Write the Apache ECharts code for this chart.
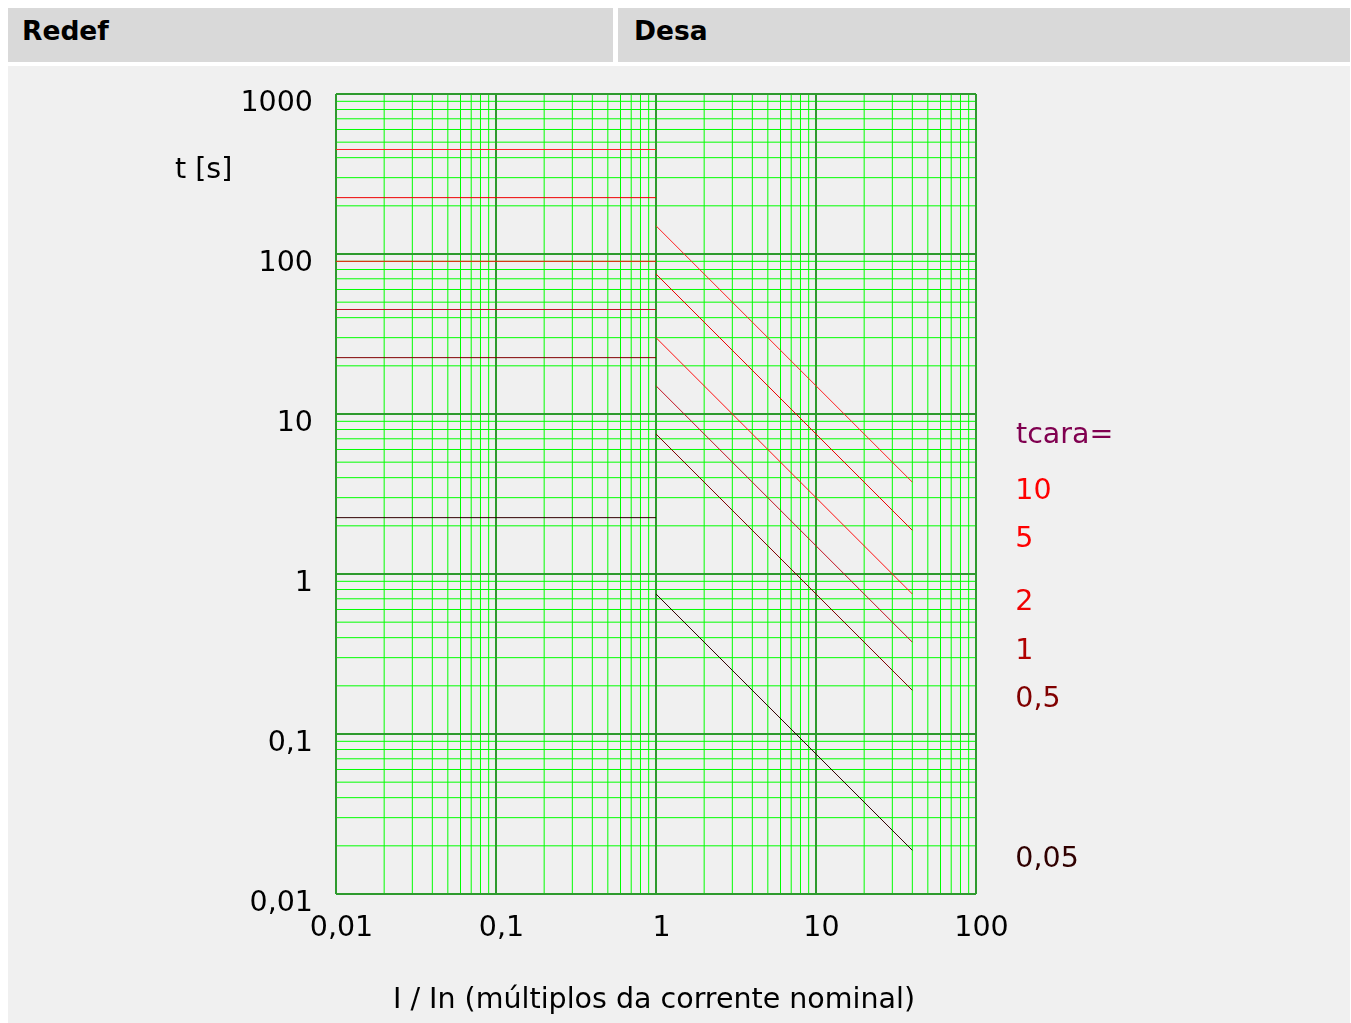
<!DOCTYPE html>
<html><head><meta charset="utf-8">
<script src="https://cdn.jsdelivr.net/npm/echarts@6/dist/echarts.min.js"></script>
<style>
body{margin:0;background:#fff;font-family:"DejaVu Sans",sans-serif;}
.h{position:absolute;top:8px;height:54px;background:#d9d9d9;font-weight:bold;font-size:26.5px;line-height:46px;box-sizing:border-box;padding-left:14px;color:#000;}
</style></head><body>
<div class="h" style="left:8px;width:605px">Redef</div>
<div class="h" style="left:618px;width:732px;padding-left:16px">Desa</div>
<div id="c" style="position:absolute;left:8px;top:66px;width:1342px;height:957px;background:#f0f0f0"></div>
<script>
const tcara = [10, 5, 2, 1, 0.5, 0.05];
const tcaraLabels = ['10', '5', '2', '1', '0,5', '0,05'];
const redefI = [0.01, 1];
const redefT = [450, 225, 90, 45, 22.5, 2.25];
const desaI = [1, 40];
const desaTStart = [150, 75, 30, 15, 7.5, 0.75];
const desaTEnd = [3.75, 1.875, 0.75, 0.375, 0.1875, 0.01875];
const xTicks = [0.01, 0.1, 1, 10, 100];
const yTicks = [0.01, 0.1, 1, 10, 100, 1000];
const lineColors = ['#ff2020', '#ee0000', '#ff1010', '#c01020', '#800000', '#300000'];
const labelColors = ['#ff0000', '#ff0000', '#f00000', '#b00000', '#800000', '#300000'];
const FONT = 'DejaVu Sans';
const FS = 28.5;

function minors(ticks) {
  const out = [];
  for (let i = 0; i < ticks.length - 1; i++)
    for (let m = 2; m <= 9; m++) out.push(Number((ticks[i] * m).toPrecision(6)));
  return out;
}
const xMin = xTicks[0], xMax = xTicks[xTicks.length - 1];
const yMin = yTicks[0], yMax = yTicks[yTicks.length - 1];

const series = [];
function gridSeries(data, color, width, z) {
  series.push({
    type: 'line', data: data, z: z, silent: true, symbol: 'none', animation: false,
    lineStyle: { color: color, width: width, type: 'solid' },
    emphasis: { disabled: true }, clip: true
  });
}
minors(xTicks).forEach(v => gridSeries([[v, yMin], [v, yMax]], '#00ff00', 1, 1));
minors(yTicks).forEach(v => gridSeries([[xMin, v], [xMax, v]], '#00ff00', 1, 1));
xTicks.forEach(v => gridSeries([[v, yMin], [v, yMax]], '#2e9a2e', 2, 2));
yTicks.forEach(v => gridSeries([[xMin, v], [xMax, v]], '#2e9a2e', 2, 2));

const fmt = v => String(Number(Number(v).toPrecision(6))).replace('.', ',');

tcara.forEach((t, i) => {
  series.push({
    type: 'line', z: 3, symbol: 'none', silent: true, emphasis: { disabled: true },
    lineStyle: { color: lineColors[i], width: 1 },
    data: [[redefI[0], redefT[i]], [redefI[1], redefT[i]]]
  });
  series.push({
    type: 'line', z: 3, symbol: 'none', silent: true, emphasis: { disabled: true },
    lineStyle: { color: lineColors[i], width: 1 },
    data: [[desaI[0], desaTStart[i]], [desaI[1], desaTEnd[i]]],
    endLabel: { show: true, formatter: tcaraLabels[i], color: labelColors[i], fontSize: FS, fontFamily: FONT, offset: [95, 9] }
  });
});

const chart = echarts.init(document.getElementById('c'), null, { renderer: 'canvas' });
chart.setOption({
  animation: false,
  backgroundColor: '#f0f0f0',
  tooltip: { show: false },
  grid: { left: 328, top: 28, width: 640, height: 800, show: true, borderColor: '#1a1a1a', borderWidth: 1, backgroundColor: 'transparent' },
  xAxis: {
    type: 'log', logBase: 10, min: xMin, max: xMax,
    axisLine: { show: false }, axisTick: { show: false }, splitLine: { show: false },
    axisLabel: { formatter: fmt, fontSize: FS, fontFamily: FONT, color: '#000', margin: 20, padding: [0, 0, 0, 11] }
  },
  yAxis: {
    type: 'log', logBase: 10, min: yMin, max: yMax,
    axisLine: { show: false }, axisTick: { show: false }, splitLine: { show: false },
    axisLabel: { formatter: fmt, fontSize: FS, fontFamily: FONT, color: '#000', margin: 23, verticalAlign: 'top', lineHeight: 20 }
  },
  graphic: [
    { type: 'text', x: 167, y: 105, style: { text: 't [s]', font: FS + 'px "DejaVu Sans"', fill: '#000', verticalAlign: 'middle' } },
    { type: 'text', x: 1008, y: 370, style: { text: 'tcara=', font: FS + 'px "DejaVu Sans"', fill: '#800050', verticalAlign: 'middle' } },
    { type: 'text', x: 646, y: 935, style: { text: 'I / In (múltiplos da corrente nominal)', font: FS + 'px "DejaVu Sans"', fill: '#000', align: 'center', verticalAlign: 'middle' } }
  ],
  series: series
});
</script>
</body></html>
